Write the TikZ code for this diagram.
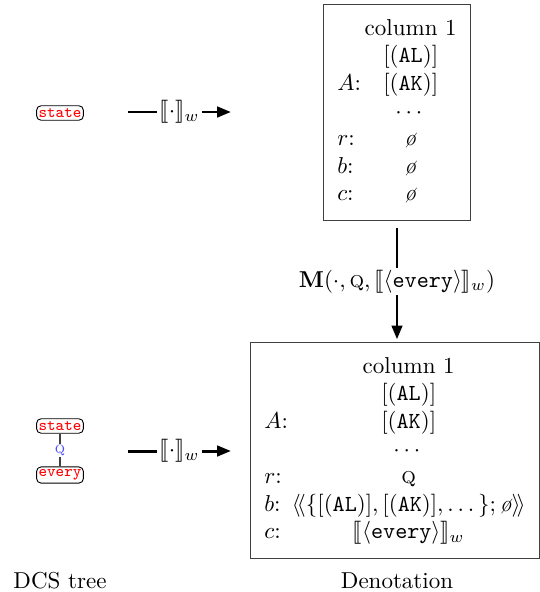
\documentclass[tikz,border=0pt]{standalone}
\usepackage{amsmath}
\usepackage{stmaryrd}
\usetikzlibrary{arrows.meta}

\tikzset{
	tnode/.style={draw,rounded corners=2pt,text=red,font=\scriptsize\ttfamily,inner xsep=0.9pt,inner ysep=1.2pt},
	denbox/.style={draw=black!75,line width=0.6pt,inner xsep=6pt,inner ysep=5pt},
	maparrow/.style={line width=1.3pt,-{Triangle[length=6pt,width=4.5pt]}}
}

\begin{document}
\begin{tikzpicture}[x=0.4348pt,y=-0.4348pt]
	\useasboundingbox (0,0) rectangle (540,592);

	% first step
	\node[tnode] (s1) at (60,113) {state};
	\coordinate (a1) at (128,112);
	\coordinate (b1) at (231,112);
	\draw[maparrow] (a1) -- node[fill=white,inner sep=1pt] {$\llbracket\cdot\rrbracket_w$} (b1);
	\node[denbox] (d1) at (397,112.5) {%
		\begin{tabular}{@{}l@{\,}c@{}}
		& column 1\\
		& [(\texttt{AL})]\\
		$A$: & [(\texttt{AK})]\\
		& $\cdots$\\
		$r$: & \textit{\o}\\
		$b$: & \textit{\o}\\
		$c$: & \textit{\o}
		\end{tabular}};

	% second step
	\node[tnode] (s2) at (60,426) {state};
	\node[tnode] (e2) at (60,475) {every};
	\draw[black!75,line width=0.6pt] (s2) -- node[text=blue!70,font=\scriptsize,fill=white,inner sep=0.5pt] {\textsc{q}} (e2);
	\coordinate (a2) at (128,451);
	\coordinate (b2) at (231,451);
	\draw[maparrow] (a2) -- node[fill=white,inner sep=1pt] {$\llbracket\cdot\rrbracket_w$} (b2);
	\node[denbox,minimum width=125pt] (d2) at (395,450.5) {%
		\begin{tabular}{@{}l@{\,}c@{}}
		& column 1\\
		& [(\texttt{AL})]\\
		$A$: & [(\texttt{AK})]\\
		& $\cdots$\\
		$r$: & \textsc{q}\\
		$b$: & $\langle\!\langle\{[(\texttt{AL})],[(\texttt{AK})],\dots\};\textit{\o}\rangle\!\rangle$\\
		$c$: & $\llbracket\langle\texttt{every}\rangle\rrbracket_w$
		\end{tabular}};

	\draw[maparrow,shorten <=3pt,shorten >=1pt] (d1.south) -- node[fill=white,inner sep=1pt] {$\mathbf{M}(\cdot,\textsc{q},\llbracket\langle\texttt{every}\rangle\rrbracket_w)$} (d1.south |- d2.north);

	\node (t1) at (60,581) {DCS tree};
	\node (t2) at (397,581) {Denotation};
\end{tikzpicture}
\end{document}
